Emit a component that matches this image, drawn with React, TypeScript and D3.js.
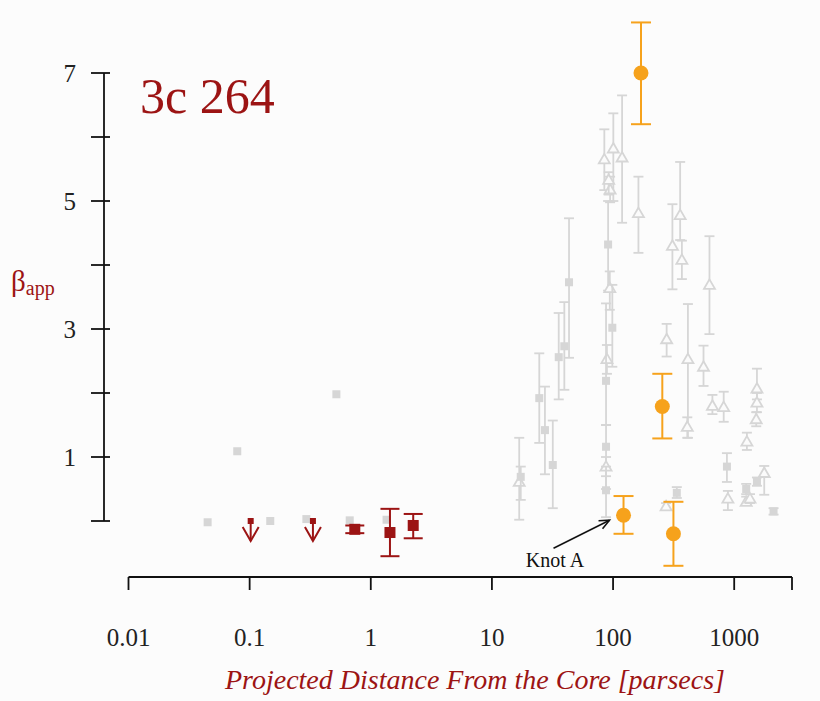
import React from "react";
import * as d3 from "d3";

// ---- Data ----
// Dark red squares with error bars (this work)
const redX = [0.738, 1.44, 2.24];
const redY = [-0.13, -0.18, -0.07];
const redLo = [-0.19, -0.55, -0.27];
const redHi = [-0.07, 0.19, 0.11];
// Dark red upper limits
const limX = [0.102, 0.333];
const limY = [0.0, 0.0];

// Orange circles with error bars
const orangeX = [170, 255, 122, 315];
const orangeY = [7.0, 1.79, 0.09, -0.2];
const orangeLo = [6.2, 1.29, -0.2, -0.7];
const orangeHi = [7.79, 2.3, 0.39, 0.3];

// Gray squares without error bars (left side)
const graySqX = [0.045, 0.079, 0.148, 0.294, 0.52, 0.67, 1.35];
const graySqY = [-0.02, 1.09, 0.0, 0.03, 1.98, 0.01, 0.02];

// Gray points with error bars (s = square, t = open triangle)
const grayX = [16.8, 17.3, 24.6, 27.4, 31.8, 35.6, 39.6, 43.3,
  84.7, 100.5, 118.7, 94.5, 92, 91, 94, 98.6, 89, 87.5, 87.5, 87.5, 87.5,
  162, 358, 309, 370, 625, 277, 415, 410, 558, 661, 819, 1541, 1541, 1520, 1273,
  871, 887, 1256, 1256, 1350, 1541, 1770, 2113, 336, 274];
const grayY = [0.61, 0.69, 1.92, 1.42, 0.875, 2.56, 2.73, 3.73,
  5.65, 5.82, 5.68, 5.18, 5.33, 4.32, 3.64, 3.02, 2.53, 2.19, 1.16, 0.85, 0.48,
  4.81, 4.78, 4.3, 4.08, 3.69, 2.84, 2.53, 1.47, 2.41, 1.8, 1.78, 2.07, 1.85, 1.59, 1.24,
  0.85, 0.35, 0.5, 0.3, 0.35, 0.61, 0.75, 0.15, 0.44, 0.23];
const grayLo = [0.02, 0.33, 1.22, 0.73, 0.2, 1.9, 2.05, 2.55,
  5.17, 5.0, 4.66, 4.98, 5.1, 3.6, 3.3, 2.41, 2.3, 1.5, 0.5, 0.7, 0.06,
  4.19, 4.39, 3.62, 3.78, 2.92, 2.57, 1.3, 1.3, 2.11, 1.67, 1.55, 1.9, 1.7, 1.48, 1.11,
  0.61, 0.17, 0.42, 0.25, 0.28, 0.55, 0.41, 0.1, 0.36, 0.18];
const grayHi = [1.3, 0.85, 2.62, 2.1, 1.57, 3.25, 3.42, 4.73,
  6.12, 6.37, 6.65, 5.38, 5.45, 5.0, 3.9, 3.69, 2.75, 3.4, 1.5, 1.0, 0.85,
  5.38, 5.61, 4.95, 4.38, 4.45, 3.08, 3.39, 1.62, 2.74, 1.97, 2.02, 2.38, 2.0, 1.7, 1.38,
  1.06, 0.47, 0.58, 0.38, 0.42, 0.68, 0.86, 0.2, 0.53, 0.28];
const grayShape = ["t", "s", "s", "s", "s", "s", "s", "s",
  "t", "t", "t", "t", "t", "s", "t", "s", "t", "s", "s", "t", "s",
  "t", "t", "t", "t", "t", "t", "t", "t", "t", "t", "t", "t", "t", "t", "t",
  "s", "t", "s", "t", "t", "s", "t", "s", "s", "t"];

const xTicks = [0.01, 0.1, 1, 10, 100, 1000, 3000];
const xTickLabels = ["0.01", "0.1", "1", "10", "100", "1000", ""];
const yTicks = [0, 1, 2, 3, 4, 5, 6, 7];
const yTickLabels = ["", "1", "", "3", "", "5", "", "7"];

const knotIndex = 2;

const W = 820;
const H = 701;
const RED = "#9c1414";
const ORANGE = "#f6a21c";
const GRAY = "#d6d6d6";
const SERIF = "'Liberation Serif', 'DejaVu Serif', serif";

export default function App() {
  const x = d3.scaleLog().domain([0.01, 3000]).range([128.5, 792]);
  const y = d3.scaleLinear().domain([0, 7]).range([521, 73]);

  const gray = grayX.map((gx, i) => {
    const cx = x(gx);
    const cy = y(grayY[i]);
    const top = y(grayHi[i]);
    const bot = y(grayLo[i]);
    return (
      <g key={"g" + i}>
        <line x1={cx} x2={cx} y1={top} y2={bot} stroke={GRAY} strokeWidth={1.8} />
        <line x1={cx - 5} x2={cx + 5} y1={top} y2={top} stroke={GRAY} strokeWidth={1.8} />
        <line x1={cx - 5} x2={cx + 5} y1={bot} y2={bot} stroke={GRAY} strokeWidth={1.8} />
        {grayShape[i] === "s" ? (
          <rect x={cx - 4} y={cy - 4} width={8} height={8} fill={GRAY} />
        ) : (
          <path
            d={`M${cx},${cy - 5.5}L${cx + 5.5},${cy + 4}L${cx - 5.5},${cy + 4}Z`}
            fill="#fbfbfb"
            stroke={GRAY}
            strokeWidth={1.8}
          />
        )}
      </g>
    );
  });

  const graySq = graySqX.map((gx, i) => (
    <rect key={"gs" + i} x={x(gx) - 4} y={y(graySqY[i]) - 4} width={8} height={8} fill={GRAY} />
  ));

  const red = redX.map((rx, i) => {
    const cx = x(rx);
    const cy = y(redY[i]);
    const top = y(redHi[i]);
    const bot = y(redLo[i]);
    return (
      <g key={"r" + i}>
        <line x1={cx} x2={cx} y1={top} y2={bot} stroke={RED} strokeWidth={2} />
        <line x1={cx - 9.5} x2={cx + 9.5} y1={top} y2={top} stroke={RED} strokeWidth={2} />
        <line x1={cx - 9.5} x2={cx + 9.5} y1={bot} y2={bot} stroke={RED} strokeWidth={2} />
        <rect x={cx - 5.5} y={cy - 5.5} width={11} height={11} fill={RED} />
      </g>
    );
  });

  const limits = limX.map((lx, i) => {
    const cx = x(lx);
    const cy = y(limY[i]);
    return (
      <g key={"l" + i}>
        <line x1={cx} x2={cx} y1={cy} y2={cy + 20} stroke={RED} strokeWidth={2} />
        <path
          d={`M${cx - 8},${cy + 6}L${cx},${cy + 20}L${cx + 8},${cy + 6}`}
          fill="none"
          stroke={RED}
          strokeWidth={2}
        />
        <rect x={cx - 3} y={cy - 3} width={6} height={6} fill={RED} />
      </g>
    );
  });

  const orange = orangeX.map((ox, i) => {
    const cx = x(ox);
    const cy = y(orangeY[i]);
    const top = y(orangeHi[i]);
    const bot = y(orangeLo[i]);
    return (
      <g key={"o" + i}>
        <line x1={cx} x2={cx} y1={top} y2={bot} stroke={ORANGE} strokeWidth={2} />
        <line x1={cx - 10} x2={cx + 10} y1={top} y2={top} stroke={ORANGE} strokeWidth={2} />
        <line x1={cx - 10} x2={cx + 10} y1={bot} y2={bot} stroke={ORANGE} strokeWidth={2} />
        <circle cx={cx} cy={cy} r={7.5} fill={ORANGE} />
      </g>
    );
  });

  // Knot A annotation arrow
  const kx = x(orangeX[knotIndex]);
  const ky = y(orangeY[knotIndex]);
  const ax2 = kx - 14;
  const ay2 = ky + 5;
  const ax1 = kx - 70;
  const ay1 = ky + 33;
  const ang = Math.atan2(ay2 - ay1, ax2 - ax1);
  const hl = 11;
  const hw = 0.42;
  const head = `M${ax2 - hl * Math.cos(ang - hw)},${ay2 - hl * Math.sin(ang - hw)}L${ax2},${ay2}L${ax2 - hl * Math.cos(ang + hw)},${ay2 - hl * Math.sin(ang + hw)}`;

  const axisY = 577;

  return (
    <svg
      width={W}
      height={H}
      style={{ position: "absolute", left: 0, top: 0, background: "#fcfcfc" }}
      fontFamily={SERIF}
    >
      <rect x={0} y={0} width={W} height={H} fill="#fcfcfc" />

      {/* title */}
      <text x={140} y={113} fontSize={50} fill={RED}>3c 264</text>

      {/* y axis */}
      <line x1={104} x2={104} y1={y(7)} y2={y(0)} stroke="#111" strokeWidth={1.8} />
      {yTicks.map((t, i) => (
        <g key={"yt" + i}>
          <line x1={91} x2={110} y1={y(t)} y2={y(t)} stroke="#111" strokeWidth={1.8} />
          {yTickLabels[i] && (
            <text x={76} y={y(t) + 8.5} fontSize={25} textAnchor="end" fill="#222">
              {yTickLabels[i]}
            </text>
          )}
        </g>
      ))}
      <text x={11} y={291} fontSize={29} fill={RED}>
        β<tspan fontSize={20} dy={4}>app</tspan>
      </text>

      {/* x axis */}
      <line x1={x(0.01)} x2={x(3000)} y1={axisY} y2={axisY} stroke="#111" strokeWidth={1.8} />
      {xTicks.map((t, i) => (
        <g key={"xt" + i}>
          <line x1={x(t)} x2={x(t)} y1={axisY} y2={axisY + 13} stroke="#111" strokeWidth={1.8} />
          {xTickLabels[i] && (
            <text x={x(t)} y={646} fontSize={25} textAnchor="middle" fill="#222">
              {xTickLabels[i]}
            </text>
          )}
        </g>
      ))}
      <text x={475} y={689} fontSize={28} fontStyle="italic" textAnchor="middle" fill={RED}>
        Projected Distance From the Core [parsecs]
      </text>

      {/* data */}
      {graySq}
      {gray}
      {limits}
      {red}
      {orange}

      {/* annotation */}
      <line x1={ax1} y1={ay1} x2={ax2} y2={ay2} stroke="#111" strokeWidth={1.6} />
      <path d={head} fill="none" stroke="#111" strokeWidth={1.6} />
      <text x={555} y={567} fontSize={20} textAnchor="middle" fill="#111">Knot A</text>
    </svg>
  );
}
